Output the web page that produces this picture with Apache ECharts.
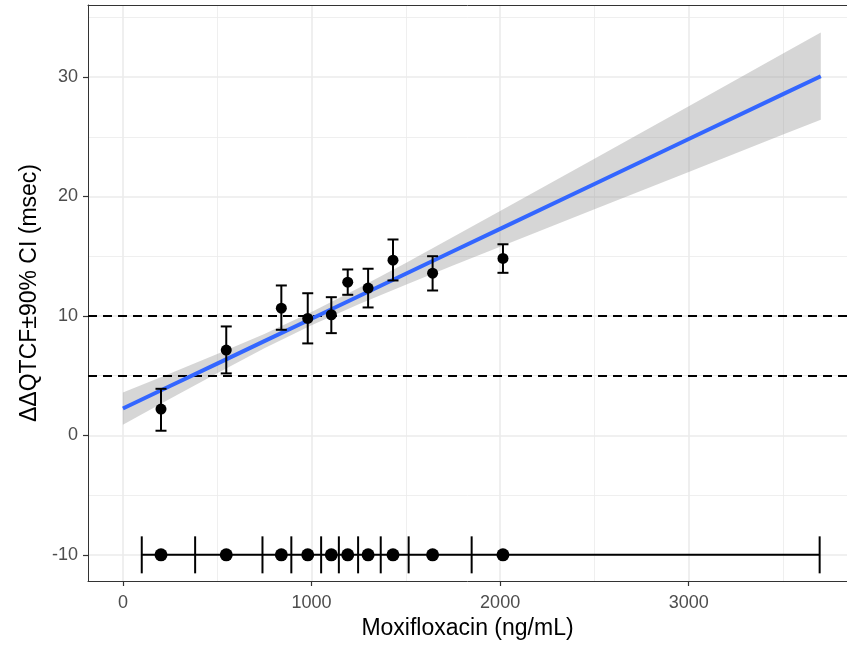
<!DOCTYPE html>
<html>
<head>
    <meta charset="utf-8" />
    <title>Moxifloxacin ΔΔQTcF</title>
    <script src="https://cdn.jsdelivr.net/npm/echarts@6.0.0/dist/echarts.min.js"></script>
    <style>
        html, body { margin: 0; padding: 0; background: #fff; }
        #main { width: 847px; height: 650px; }
    </style>
</head>
<body>
<div id="main"></div>
<script type="text/javascript">
    // concentration bins: mean conc, mean ddQTcF and 90% CI
    var binConc = [202, 548, 840, 980, 1105, 1192, 1300, 1432, 1642, 2015];
    var binMean = [2.2, 7.14, 10.65, 9.79, 10.1, 12.83, 12.33, 14.67, 13.58, 14.81];
    var binLower = [0.39, 5.19, 8.84, 7.7, 8.56, 11.77, 10.71, 12.97, 12.13, 13.61];
    var binUpper = [3.9, 9.12, 12.55, 11.9, 11.57, 13.89, 13.95, 16.4, 15.0, 16.0];

    // decile edges of the concentrations (rug at y = -10)
    var binEdges = [100, 383, 740, 893, 1051, 1145, 1247, 1367, 1515, 1849, 3694];
    var rugLevel = -10;

    // linear fit with its confidence band
    var fitX = [0, 250, 500, 750, 1000, 1250, 1500, 1750, 2000, 2500, 3000, 3500, 3700];
    var fitY = [2.25, 4.13, 6.01, 7.89, 9.77, 11.65, 13.53, 15.41, 17.29, 21.05, 24.81, 28.57, 30.07];
    var fitLo = [0.90, 3.07, 5.21, 7.29, 9.22, 10.97, 12.62, 14.22, 15.80, 18.94, 22.06, 25.18, 26.42];
    var fitHi = [3.60, 5.19, 6.81, 8.49, 10.32, 12.33, 14.44, 16.60, 18.78, 23.16, 27.56, 31.96, 33.72];

    // reference lines
    var refLines = [10, 5];

    // axis ticks
    var xTicks = [0, 1000, 2000, 3000];
    var xMinor = [500, 1500, 2500, 3500];
    var yTicks = [-10, 0, 10, 20, 30];
    var yMinor = [-5, 5, 15, 25, 35];

    var chart = echarts.init(document.getElementById('main'));

    var fitData = fitX.map(function (x, i) { return [x, fitY[i], fitLo[i], fitHi[i]]; });
    var barData = binConc.map(function (x, i) { return [x, binMean[i], binLower[i], binUpper[i]]; });

    function gridLine(axis, v, w) {
        var o = { lineStyle: { color: '#EBEBEB', width: w, type: 'solid' } };
        o[axis] = v;
        return o;
    }
    var gridMarks = [];
    xMinor.forEach(function (v) { gridMarks.push(gridLine('xAxis', v, 0.8)); });
    yMinor.forEach(function (v) { gridMarks.push(gridLine('yAxis', v, 0.8)); });
    xTicks.forEach(function (v) { gridMarks.push(gridLine('xAxis', v, 1.6)); });
    yTicks.forEach(function (v) { gridMarks.push(gridLine('yAxis', v, 1.6)); });

    var xRange = { min: -185, max: 3839 };
    var borderLine = { show: true, onZero: false, lineStyle: { color: '#333', width: 1 } };

    var option = {
        animation: false,
        backgroundColor: '#fff',
        textStyle: { fontFamily: 'Liberation Sans, Arial, sans-serif' },
        grid: {
            // panel runs past the right edge of the picture, so no right border
            left: 88, right: 0, top: 5, bottom: 69,
            show: false,
            containLabel: false
        },
        xAxis: [{
            type: 'value',
            position: 'bottom',
            min: xRange.min, max: xRange.max,
            name: 'Moxifloxacin (ng/mL)',
            nameLocation: 'middle',
            nameGap: 36,
            nameTextStyle: { fontSize: 23, color: '#000' },
            axisLine: borderLine,
            axisTick: { show: true, customValues: xTicks, length: 5, lineStyle: { color: '#333', width: 1.2 } },
            axisLabel: {
                customValues: xTicks, fontSize: 18, color: '#4D4D4D', margin: 13,
                formatter: function (v) { return String(v); }
            },
            splitLine: { show: false }
        }, {
            // top border of the panel
            type: 'value',
            position: 'top',
            min: xRange.min, max: xRange.max,
            axisLine: borderLine,
            axisTick: { show: false },
            axisLabel: { show: false },
            splitLine: { show: false }
        }],
        yAxis: {
            type: 'value',
            min: -12.19, max: 36.03,
            name: 'ΔΔQTCF±90% CI (msec)',
            nameLocation: 'middle',
            nameGap: 47,
            nameTextStyle: { fontSize: 23, color: '#000' },
            axisLine: borderLine,
            axisTick: { show: true, customValues: yTicks, length: 5, lineStyle: { color: '#333', width: 1.2 } },
            axisLabel: {
                customValues: yTicks, fontSize: 18, color: '#4D4D4D', margin: 10,
                formatter: function (v) { return String(v); }
            },
            splitLine: { show: false }
        },
        series: [
            {
                // panel grid
                type: 'line',
                data: [],
                z: 0,
                silent: true,
                markLine: { z: 0, symbol: 'none', silent: true, label: { show: false }, data: gridMarks }
            },
            {
                // confidence band
                type: 'custom',
                z: 1,
                silent: true,
                data: fitData,
                renderItem: function (params, api) {
                    if (params.dataIndex !== 0) return null;
                    var pts = [];
                    for (var i = 0; i < fitData.length; i++) pts.push(api.coord([fitData[i][0], fitData[i][3]]));
                    for (var j = fitData.length - 1; j >= 0; j--) pts.push(api.coord([fitData[j][0], fitData[j][2]]));
                    return { type: 'polygon', shape: { points: pts }, style: { fill: 'rgba(153,153,153,0.4)' } };
                }
            },
            {
                // dashed reference lines
                type: 'line',
                data: [],
                z: 2,
                silent: true,
                markLine: {
                    z: 2, symbol: 'none', silent: true, label: { show: false },
                    lineStyle: { color: '#000', width: 2, type: [9, 6] },
                    data: refLines.map(function (v) { return { yAxis: v }; })
                }
            },
            {
                // fitted line
                type: 'line',
                z: 3,
                showSymbol: false,
                data: fitX.map(function (x, i) { return [x, fitY[i]]; }),
                lineStyle: { color: '#3366FF', width: 4 }
            },
            {
                // error bars
                type: 'custom',
                z: 4,
                data: barData,
                renderItem: function (params, api) {
                    var x = api.value(0);
                    var top = api.coord([x, api.value(3)]);
                    var bot = api.coord([x, api.value(2)]);
                    var hw = 5.5;
                    var st = { stroke: '#000', lineWidth: 2 };
                    return {
                        type: 'group',
                        children: [
                            { type: 'line', shape: { x1: top[0], y1: top[1], x2: bot[0], y2: bot[1] }, style: st },
                            { type: 'line', shape: { x1: top[0] - hw, y1: top[1], x2: top[0] + hw, y2: top[1] }, style: st },
                            { type: 'line', shape: { x1: bot[0] - hw, y1: bot[1], x2: bot[0] + hw, y2: bot[1] }, style: st }
                        ]
                    };
                }
            },
            {
                type: 'scatter',
                z: 5,
                symbolSize: 11,
                itemStyle: { color: '#000', opacity: 1 },
                data: binConc.map(function (x, i) { return [x, binMean[i]]; })
            },
            {
                // concentration range line + decile edges
                type: 'custom',
                z: 4,
                data: binEdges.map(function (x) { return [x, rugLevel]; }),
                renderItem: function (params, api) {
                    var p = api.coord([api.value(0), api.value(1)]);
                    var st = { stroke: '#000', lineWidth: 2 };
                    var kids = [
                        { type: 'line', shape: { x1: p[0], y1: p[1] - 18.5, x2: p[0], y2: p[1] + 18.5 }, style: st }
                    ];
                    if (params.dataIndex === 0) {
                        var q = api.coord([binEdges[binEdges.length - 1], rugLevel]);
                        kids.push({ type: 'line', shape: { x1: p[0], y1: p[1], x2: q[0], y2: q[1] }, style: st });
                    }
                    return { type: 'group', children: kids };
                }
            },
            {
                type: 'scatter',
                z: 5,
                symbolSize: 13,
                itemStyle: { color: '#000', opacity: 1 },
                data: binConc.map(function (x) { return [x, rugLevel]; })
            }
        ]
    };

    chart.setOption(option);
</script>
</body>
</html>
